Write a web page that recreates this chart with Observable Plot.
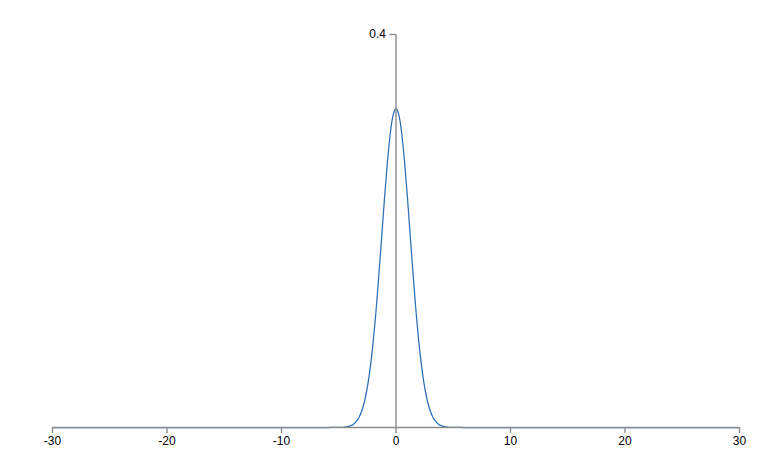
<!DOCTYPE html>
<html>
<head>
<meta charset="utf-8">
<script src="https://cdn.jsdelivr.net/npm/d3@7"></script>
<script src="https://cdn.jsdelivr.net/npm/@observablehq/plot@0.6"></script>
<style>
  html, body { margin: 0; padding: 0; background: #fff; }
  #chart svg { font-family: "Liberation Sans", Arial, sans-serif; }
</style>
</head>
<body>
<div id="chart"></div>
<script>
// Values (density curve)
const xs = [-30, -6, -5, -4.5, -4, -3.75, -3.5, -3.25, -3, -2.75, -2.5, -2.25, -2, -1.75, -1.5, -1.25, -1, -0.75, -0.5, -0.25, 0,
            0.25, 0.5, 0.75, 1, 1.25, 1.5, 1.75, 2, 2.25, 2.5, 2.75, 3, 3.25, 3.5, 3.75, 4, 4.5, 5, 6, 30];
const ys = [0, 0, 0.0001, 0.0004, 0.0016, 0.0031, 0.0057, 0.0099, 0.0166, 0.0267, 0.0412, 0.061, 0.0867, 0.118, 0.155, 0.194, 0.234, 0.270, 0.299, 0.318, 0.325,
            0.318, 0.299, 0.270, 0.234, 0.194, 0.155, 0.118, 0.0867, 0.061, 0.0412, 0.0267, 0.0166, 0.0099, 0.0057, 0.0031, 0.0016, 0.0004, 0.0001, 0, 0];
const xTicks = [-30, -20, -10, 0, 10, 20, 30];
const yTicks = [0.4];

const data = xs.map((x, i) => ({x, y: ys[i]}));
const axisGray = "#8c8c8c";

const chart = Plot.plot({
  width: 773,
  height: 473,
  marginLeft: 52,
  marginRight: 34,
  marginTop: 34,
  marginBottom: 46,
  style: {fontSize: "12px", color: "black", fontFamily: "Liberation Sans, Arial, sans-serif"},
  x: {domain: [-30, 30], axis: null},
  y: {domain: [0, 0.4], axis: null},
  marks: [
    Plot.line(data, {x: "x", y: "y", stroke: "#2a6eb5", strokeWidth: 1.25, curve: "catmull-rom"}),
    Plot.ruleY([0], {stroke: axisGray, strokeWidth: 1.6}),
    Plot.ruleX([0], {y1: 0, y2: 0.4, stroke: axisGray, strokeWidth: 1.4}),
    Plot.ruleY(yTicks, {x1: 0, x2: 0, insetLeft: -6, stroke: axisGray, strokeWidth: 1.4}),
    Plot.text(yTicks, {x: 0, y: d => d, text: d => String(d), dx: -10, textAnchor: "end", fill: "black"}),
    Plot.ruleX(xTicks, {y1: 0, y2: 0, insetBottom: -6, stroke: axisGray, strokeWidth: 1.4}),
    Plot.text(xTicks, {x: d => d, y: 0, text: d => String(d), dy: 14, fill: "black"})
  ]
});
document.getElementById("chart").append(chart);
</script>
</body>
</html>
